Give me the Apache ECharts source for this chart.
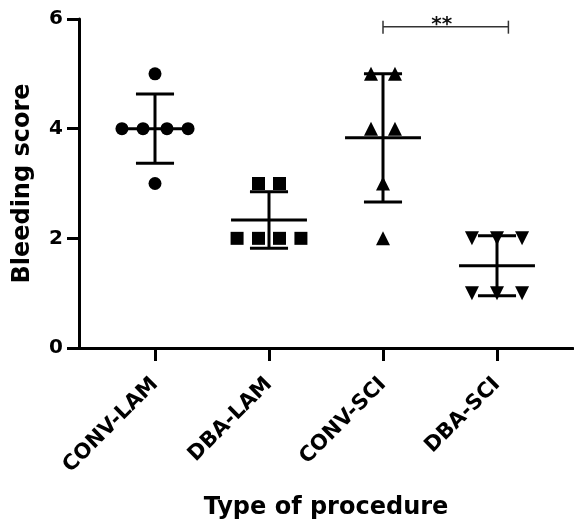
<html>
<head>
    <meta charset="UTF-8"/>
    <title>Bleeding score</title>
    <script src="https://cdn.jsdelivr.net/npm/echarts@6/dist/echarts.min.js"></script>
</head>
<body style="margin:0;">
<div id="main" style="width:574px;height:526px;"></div>
<script>
// groups on the x axis
var groups = ['CONV-LAM', 'DBA-LAM', 'CONV-SCI', 'DBA-SCI'];
var symbols = ['circle', 'rect', 'triangle', 'triangle'];
var rotations = [0, 0, 0, 180];

// scores per animal, and the horizontal spread of each dot (in group units)
var convLam = [5, 4, 4, 4, 4, 3];
var convLamJitter = [0, -0.29, -0.105, 0.105, 0.29, 0];
var dbaLam = [3, 3, 2, 2, 2, 2];
var dbaLamJitter = [-0.092, 0.092, -0.28, -0.092, 0.092, 0.28];
var convSci = [5, 5, 4, 4, 3, 2];
var convSciJitter = [-0.105, 0.105, -0.105, 0.105, 0, 0];
var dbaSci = [2, 2, 2, 1, 1, 1];
var dbaSciJitter = [-0.22, 0, 0.22, -0.22, 0, 0.22];

var yTicks = [0, 2, 4, 6];

// significance bracket between CONV-SCI and DBA-SCI
var sigFrom = 2;
var sigTo = 3.1;
var sigY = 5.86;
var sigText = '**';

var allValues = [convLam, dbaLam, convSci, dbaSci];
var allJitter = [convLamJitter, dbaLamJitter, convSciJitter, dbaSciJitter];

function meanSd(arr) {
    var m = 0;
    arr.forEach(function (v) { m += v; });
    m = m / arr.length;
    var s = 0;
    arr.forEach(function (v) { s += (v - m) * (v - m); });
    return [m, Math.sqrt(s / (arr.length - 1))];
}

var stats = allValues.map(function (arr, i) {
    var ms = meanSd(arr);
    return [i, ms[0], ms[1]];
});

var font = 'DejaVu Sans, sans-serif';
var myChart = echarts.init(document.getElementById('main'));

var series = [];
allValues.forEach(function (arr, i) {
    series.push({
        type: 'scatter',
        symbol: symbols[i],
        symbolRotate: rotations[i],
        symbolSize: i < 2 ? 13 : 14,
        itemStyle: {color: '#000', opacity: 1},
        data: arr.map(function (v, k) { return [i + allJitter[i][k], v]; }),
        z: 2
    });
});

// mean +/- SD
series.push({
    type: 'custom',
    z: 3,
    data: stats,
    renderItem: function (params, api) {
        var x = api.value(0), m = api.value(1), sd = api.value(2);
        var st = {stroke: '#000', lineWidth: 3};
        function seg(x1, y1, x2, y2) {
            var a = api.coord([x1, y1]), b = api.coord([x2, y2]);
            return {type: 'line', shape: {x1: a[0], y1: a[1], x2: b[0], y2: b[1]}, style: st};
        }
        return {
            type: 'group',
            children: [
                seg(x, m - sd, x, m + sd),
                seg(x - 0.333, m, x + 0.333, m),
                seg(x - 0.167, m + sd, x + 0.167, m + sd),
                seg(x - 0.167, m - sd, x + 0.167, m - sd)
            ]
        };
    }
});

// bracket
series.push({
    type: 'custom',
    z: 3,
    data: [[sigFrom, sigTo, sigY]],
    renderItem: function (params, api) {
        var a = api.coord([api.value(0), api.value(2)]);
        var b = api.coord([api.value(1), api.value(2)]);
        var st = {stroke: '#333', lineWidth: 1.5};
        return {
            type: 'group',
            children: [
                {type: 'line', shape: {x1: a[0], y1: a[1], x2: b[0], y2: b[1]}, style: st},
                {type: 'line', shape: {x1: a[0], y1: a[1] - 6, x2: a[0], y2: a[1] + 7}, style: st},
                {type: 'line', shape: {x1: b[0], y1: b[1] - 6, x2: b[0], y2: b[1] + 7}, style: st},
                {type: 'text', x: (a[0] + b[0]) / 2 - 4, y: a[1] - 2,
                    style: {text: sigText, fill: '#111', font: 'bold 20px ' + font,
                        align: 'center', verticalAlign: 'middle'}}
            ]
        };
    }
});

var option = {
    animation: false,
    backgroundColor: '#fff',
    grid: {left: 79, right: 1, top: 19, bottom: 178},
    xAxis: {
        type: 'value',
        min: -2 / 3,
        max: 11 / 3,
        name: 'Type of procedure',
        nameLocation: 'middle',
        nameGap: 148,
        nameTextStyle: {color: '#000', fontWeight: 'bold', fontSize: 24, fontFamily: font},
        splitLine: {show: false},
        axisLine: {lineStyle: {color: '#000', width: 3}},
        axisTick: {customValues: [0, 1, 2, 3], length: 13, lineStyle: {color: '#000', width: 3}},
        axisLabel: {
            customValues: [0, 1, 2, 3],
            rotate: 45,
            margin: 33,
            color: '#000',
            fontWeight: 'bold',
            fontSize: 21,
            fontFamily: font,
            formatter: function (v) { return groups[Math.round(v)]; }
        }
    },
    yAxis: {
        type: 'value',
        min: 0,
        max: 6,
        interval: 2,
        name: 'Bleeding score',
        nameLocation: 'middle',
        nameGap: 44,
        nameTextStyle: {color: '#000', fontWeight: 'bold', fontSize: 24, fontFamily: font},
        splitLine: {show: false},
        axisLine: {show: true, onZero: false, lineStyle: {color: '#000', width: 3}},
        axisTick: {show: true, length: 12, lineStyle: {color: '#000', width: 3}},
        axisLabel: {
            margin: 16,
            color: '#000',
            fontWeight: 'bold',
            fontSize: 20,
            fontFamily: font,
            formatter: function (v) { return yTicks.indexOf(v) >= 0 ? v : ''; }
        }
    },
    series: series
};
myChart.setOption(option);
</script>
</body>
</html>
